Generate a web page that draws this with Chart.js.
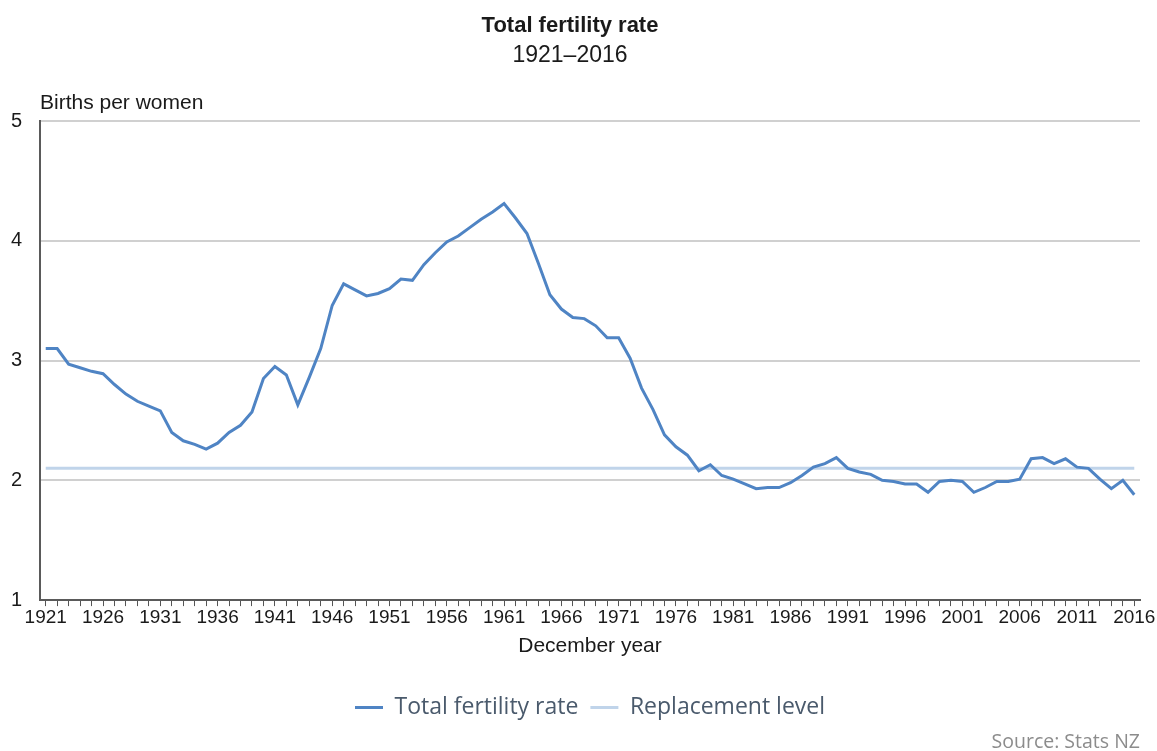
<!DOCTYPE html>
<html>
<head>
<meta charset="utf-8">
<title>Total fertility rate</title>
<script src="https://cdn.jsdelivr.net/npm/chart.js@4.4.1/dist/chart.umd.min.js"></script>
<style>
  html, body { margin: 0; padding: 0; background: #fff; }
  #wrap { width: 1157px; height: 751px; }
</style>
</head>
<body>
<div id="wrap"><canvas id="chart" width="1157" height="751"></canvas></div>
<script>
var years = [
  1921,1922,1923,1924,1925,1926,1927,1928,1929,1930,
  1931,1932,1933,1934,1935,1936,1937,1938,1939,1940,
  1941,1942,1943,1944,1945,1946,1947,1948,1949,1950,
  1951,1952,1953,1954,1955,1956,1957,1958,1959,1960,
  1961,1962,1963,1964,1965,1966,1967,1968,1969,1970,
  1971,1972,1973,1974,1975,1976,1977,1978,1979,1980,
  1981,1982,1983,1984,1985,1986,1987,1988,1989,1990,
  1991,1992,1993,1994,1995,1996,1997,1998,1999,2000,
  2001,2002,2003,2004,2005,2006,2007,2008,2009,2010,
  2011,2012,2013,2014,2015,2016
];

var fertilityRate = [
  3.10,3.10,2.97,2.94,2.91,2.89,2.80,2.72,2.66,2.62,
  2.58,2.40,2.33,2.30,2.26,2.31,2.40,2.46,2.57,2.85,
  2.95,2.88,2.63,2.86,3.10,3.46,3.64,3.59,3.54,3.56,
  3.60,3.68,3.67,3.80,3.90,3.99,4.04,4.11,4.18,4.24,
  4.31,4.19,4.06,3.81,3.55,3.43,3.36,3.35,3.29,3.19,
  3.19,3.02,2.77,2.59,2.38,2.28,2.21,2.08,2.13,2.04,
  2.01,1.97,1.93,1.94,1.94,1.98,2.04,2.11,2.14,2.19,
  2.10,2.07,2.05,2.00,1.99,1.97,1.97,1.90,1.99,2.00,
  1.99,1.90,1.94,1.99,1.99,2.01,2.18,2.19,2.14,2.18,
  2.11,2.10,2.01,1.93,2.00,1.88
];

var replacementLevel = 2.1;
var yMin = 1;
var yMax = 5;
var yStep = 1;
var labelEvery = 5;

var sans = "'Liberation Sans', Arial, sans-serif";

// texts that chart.js has no slot for
var extraText = {
  id: 'extraText',
  afterDraw: function(chart) {
    var ctx = chart.ctx;
    var area = chart.chartArea;
    ctx.save();
    ctx.fillStyle = '#1a1a1a';
    ctx.font = '21px ' + sans;
    ctx.textAlign = 'left';
    ctx.textBaseline = 'middle';
    ctx.fillText('Births per women', area.left, 103);

    ctx.fillStyle = '#8c8c8c';
    ctx.font = "19.5px 'Open Sans', sans-serif";
    ctx.textAlign = 'right';
    ctx.fillText('Source: Stats NZ', 1140, 742);
    ctx.restore();
  }
};

var ctx = document.getElementById('chart').getContext('2d');
var chart = new Chart(ctx, {
  type: 'line',
  data: {
    labels: years,
    datasets: [
      {
        label: 'Total fertility rate',
        data: fertilityRate,
        borderColor: '#4f84c4',
        backgroundColor: '#4f84c4',
        borderWidth: 3,
        pointRadius: 0,
        tension: 0,
        order: 1
      },
      {
        label: 'Replacement level',
        data: years.map(function() { return replacementLevel; }),
        borderColor: '#c0d4ea',
        backgroundColor: '#c0d4ea',
        borderWidth: 3,
        pointRadius: 0,
        tension: 0,
        order: 2
      }
    ]
  },
  options: {
    responsive: false,
    animation: false,
    layout: {
      padding: { left: 0, right: 17, top: 0, bottom: 22 }
    },
    plugins: {
      title: {
        display: true,
        text: 'Total fertility rate',
        color: '#1a1a1a',
        font: { family: sans, size: 22, weight: 'bold', lineHeight: 1.2 },
        padding: { top: 13, bottom: 2 }
      },
      subtitle: {
        display: true,
        text: '1921\u20132016',
        color: '#1a1a1a',
        font: { family: sans, size: 23, lineHeight: 1.2 },
        padding: { top: 0, bottom: 52 }
      },
      legend: {
        position: 'bottom',
        fullSize: false,
        labels: {
          usePointStyle: true,
          pointStyle: 'line',
          pointStyleWidth: 28,
          padding: 12,
          color: '#4a5a6c',
          font: { family: "'Open Sans', sans-serif", size: 23 }
        }
      },
      tooltip: { enabled: false }
    },
    scales: {
      x: {
        type: 'category',
        offset: true,
        grid: {
          offset: false,
          drawOnChartArea: false,
          drawTicks: true,
          tickLength: 6,
          color: '#555'
        },
        border: { display: true, color: '#5a5a5a', width: 2 },
        ticks: {
          autoSkip: false,
          maxRotation: 0,
          minRotation: 0,
          padding: 1,
          color: '#1a1a1a',
          font: { family: sans, size: 19, lineHeight: 1.1 },
          callback: function(val) {
            var y = this.getLabelForValue(val);
            return (y - years[0]) % labelEvery === 0 ? String(y) : '';
          }
        },
        title: {
          display: true,
          text: 'December year',
          color: '#1a1a1a',
          font: { family: sans, size: 21, lineHeight: 1 },
          padding: { top: 7, bottom: 27 }
        }
      },
      y: {
        min: yMin,
        max: yMax,
        afterFit: function(scale) { scale.width = 40; },
        grid: {
          drawTicks: false,
          color: '#d0d0d0',
          lineWidth: 2
        },
        border: { display: true, color: '#5a5a5a', width: 2 },
        ticks: {
          stepSize: yStep,
          padding: 18,
          color: '#1a1a1a',
          font: { family: sans, size: 20 }
        }
      }
    }
  },
  plugins: [extraText]
});
</script>
</body>
</html>
